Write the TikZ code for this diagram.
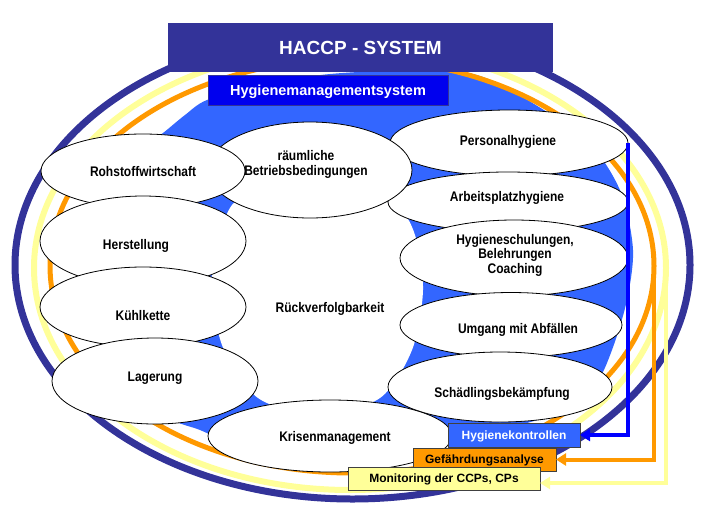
\documentclass[tikz,border=0pt]{standalone}
\usepackage{fontspec}
\setmainfont{Liberation Sans}
\usetikzlibrary{shapes.geometric,arrows.meta}
\definecolor{haccpnavy}{RGB}{51,51,153}
\definecolor{ringblue}{RGB}{51,102,255}
\definecolor{hmsblue}{RGB}{0,0,238}
\definecolor{ringorange}{RGB}{255,153,0}
\definecolor{ringyellow}{RGB}{255,255,153}
\definecolor{arrowblue}{RGB}{0,0,255}
\newsavebox\tallbox
\tikzset{
  >={Triangle[length=10pt,width=12pt]},
  {ring/.style} ={ellipse, draw=#1, outer sep=0, inner sep=0},
  {blob/.style} ={ellipse, draw=black, line width=0.8pt, fill=white,
                  outer sep=0, inner sep=0},
  {blobtext/.style} ={font=\bfseries\fontsize{12}{12}\selectfont, inner sep=0,
                  execute at begin node={\begin{lrbox}{\tallbox}},
                  execute at end node={\end{lrbox}\scalebox{1}[1.16]{\usebox\tallbox}}},
  {oneline/.style} ={blobtext, text height=10pt, text depth=0pt},
  {tag/.style} ={rectangle, draw=black!75, line width=0.8pt,
                  outer sep=0, inner sep=0, text height=8.6pt, text depth=0pt,
                  font=\bfseries\fontsize{12}{14}\selectfont},
  {flow/.style} ={draw=#1, line width=4pt, ->},
}
\begin{document}
\begin{tikzpicture}[x=1pt,y=-1pt]
\useasboundingbox (0,0) rectangle (709,520);
% blue ring
\fill[ringblue] plot[smooth cycle] coordinates {(140,150) (163,133) (185,115)
  (207,100) (260,85) (330,74) (420,70) (480,76) (547,112) (595,150) (622,195)
  (633,250) (627,300) (612,350) (595,385) (560,412) (500,430) (440,442)
  (330,455) (240,444) (200,430) (160,410) (120,330) (112,260) (118,200)};
\fill[white] plot[smooth cycle] coordinates {(232,205) (280,190) (340,190)
  (395,205) (415,235) (423,290) (412,350) (380,398) (320,415) (258,398)
  (222,345) (212,275)};
% outer rings
\node[ring=haccpnavy, line width=7pt, minimum width=675pt, minimum height=468pt] (nring) at (352.5,265) {};
\node[ring=ringyellow, line width=6pt, minimum width=632pt, minimum height=444pt] (yring) at (350,268) {};
\node[ring=ringorange, line width=5pt, minimum width=604pt, minimum height=414pt] (oring) at (352,266) {};
% topics
\node[blob, minimum width=238pt, minimum height=66pt] (pers) at (509,143) {};
\node[blob, minimum width=240pt, minimum height=60pt] (arb) at (508,202) {};
\node[blob, minimum width=204pt, minimum height=96pt] (raeum) at (310,170) {};
\node[blob, minimum width=204pt, minimum height=74pt] (roh) at (143,171) {};
\node[blob, minimum width=206pt, minimum height=90pt] (hers) at (143,241) {};
\node[blob, minimum width=206pt, minimum height=80pt] (kuehl) at (143,307) {};
\node[blob, minimum width=206pt, minimum height=86pt] (lager) at (155,381) {};
\node[blob, minimum width=228pt, minimum height=76pt] (schul) at (514,258) {};
\node[blob, minimum width=222pt, minimum height=65pt] (abf) at (511,325) {};
\node[blob, minimum width=224pt, minimum height=70pt] (schaed) at (500,387) {};
\node[blob, minimum width=244pt, minimum height=72pt] (krise) at (330,436) {};
% texts
\node[oneline] (roh-t) at (143,171) {Rohstoffwirtschaft};
\node[blobtext] (raeum-t) at (306,165) {\begin{tabular}{@{}c@{}}räumliche\\Betriebsbedingungen\end{tabular}};
\node[oneline] (pers-t) at (508,140) {Personalhygiene};
\node[oneline] (arb-t) at (507,196) {Arbeitsplatzhygiene};
\node[blobtext] (schul-t) at (515,256) {\begin{tabular}{@{}c@{}}Hygieneschulungen,\\Belehrungen\\Coaching\end{tabular}};
\node[oneline] (rueck-t) at (330,307) {Rückverfolgbarkeit};
\node[oneline] (hers-t) at (136,244) {Herstellung};
\node[oneline] (kuehl-t) at (143,315) {Kühlkette};
\node[oneline] (lager-t) at (155,376) {Lagerung};
\node[oneline] (abf-t) at (518,328) {Umgang mit Abfällen};
\node[oneline] (schaed-t) at (502,392) {Schädlingsbekämpfung};
\node[oneline] (krise-t) at (335,436) {Krisenmanagement};
% headings
\node[fill=haccpnavy, minimum width=385pt, minimum height=49pt, inner sep=0,
      text=white, text height=13.6pt, text depth=0pt,
      font=\bfseries\fontsize{19}{22}\selectfont] (title) at (360.5,47.5) {HACCP - SYSTEM};
\node[fill=hmsblue, draw=haccpnavy, line width=0.8pt, minimum width=240pt, minimum height=30pt,
      inner sep=0, text=white, text height=10.4pt, text depth=0pt,
      font=\bfseries\fontsize{14.5}{17}\selectfont] (hms) at (328,90) {Hygienemanagementsystem};
% control tags
\node[tag, fill=ringblue, text=white, minimum width=132pt, minimum height=24pt] (kontr) at (514,435) {Hygienekontrollen};
\node[tag, fill=ringorange, minimum width=143pt, minimum height=23pt] (gef) at (484.5,459.5) {Gefährdungsanalyse};
\node[tag, fill=ringyellow, minimum width=192pt, minimum height=23pt] (mon) at (444,478.5) {Monitoring der CCPs, CPs};
% feedback arrows
\draw[flow=arrowblue] (pers.east) |- (kontr.east);
\draw[flow=ringorange] (oring.east) |- (gef.east);
\draw[flow=ringyellow] (yring.east) |- ([yshift=-4.5pt]mon.east);
\end{tikzpicture}
\end{document}
